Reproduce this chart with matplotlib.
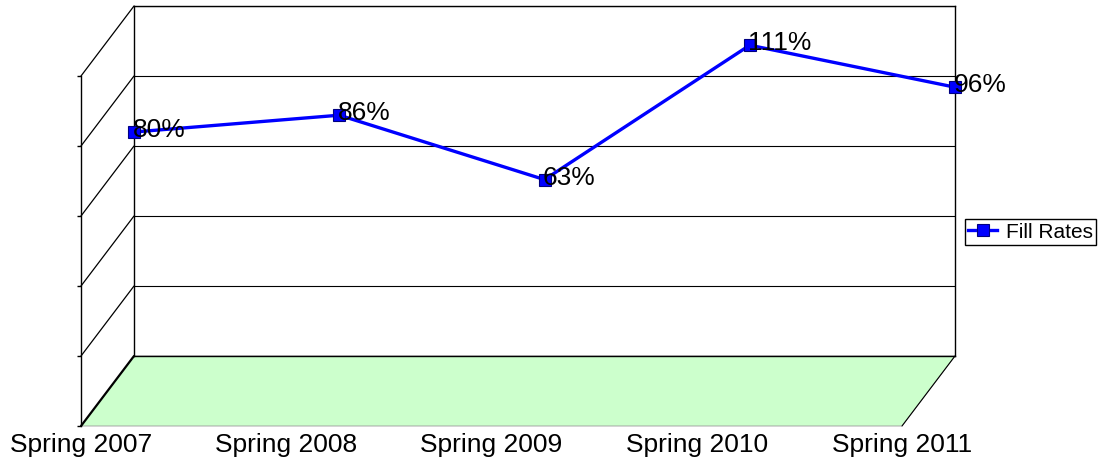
import matplotlib
matplotlib.use("Agg")
import matplotlib.pyplot as plt
from matplotlib.patches import Polygon, ConnectionPatch

plt.rcParams['font.family'] = ['Liberation Sans', 'DejaVu Sans']

# data
seasons = ['Spring 2007', 'Spring 2008', 'Spring 2009', 'Spring 2010', 'Spring 2011']
fill_rates = [80, 86, 63, 111, 96]
y_ticks = [0, 25, 50, 75, 100, 125]

W, H = 1098, 464
fig = plt.figure(figsize=(W / 100, H / 100), dpi=100)

def box(x0, y0, x1, y1):
    # pixel box (top-left origin) -> figure fraction
    return [x0 / W, 1 - y1 / H, (x1 - x0) / W, (y1 - y0) / H]

# front axis (left value axis + category labels)
ax_front = fig.add_axes(box(81, 77, 902, 427))
ax_front.set_facecolor('none')
ax_front.set_xlim(0, len(seasons) - 1)
ax_front.set_ylim(0, 125)
for s in ['top', 'right', 'bottom']:
    ax_front.spines[s].set_visible(False)
ax_front.spines['left'].set_linewidth(1.0)
ax_front.set_yticks(y_ticks)
ax_front.tick_params(axis='y', length=3, width=1.0, labelleft=False)
ax_front.set_xticks(range(len(seasons)))
ax_front.set_xticklabels(seasons, fontsize=19)
ax_front.tick_params(axis='x', length=0, pad=4)
ax_front.set_zorder(0)

# back wall
ax = fig.add_axes(box(134, 7, 955, 357))
ax.set_facecolor('none')
ax.set_xlim(0, len(seasons) - 1)
ax.set_ylim(0, 125)
for s in ax.spines.values():
    s.set_linewidth(1.0)
ax.set_yticks(y_ticks)
ax.set_xticks([])
ax.tick_params(axis='y', length=0, labelleft=False)
ax.grid(axis='y', color='black', linewidth=0.8)
ax.set_zorder(1)

# floor
fig.canvas.draw()
n = len(seasons) - 1
pts = [ax.transData.transform((0, 0)), ax.transData.transform((n, 0)),
       ax_front.transData.transform((n, 0)), ax_front.transData.transform((0, 0))]
pts = fig.transFigure.inverted().transform(pts)
floor = Polygon(pts, closed=True, facecolor='#CCFFCC', edgecolor='#999999',
                linewidth=0.6, transform=fig.transFigure, zorder=-1)
fig.add_artist(floor)

# side wall diagonals
for v in y_ticks:
    lw = 1.6 if v == 0 else 0.9
    con = ConnectionPatch(xyA=(0, v), coordsA=ax.transData,
                          xyB=(0, v), coordsB=ax_front.transData,
                          color='black', linewidth=lw)
    fig.add_artist(con)
con = ConnectionPatch(xyA=(n, 0), coordsA=ax.transData,
                      xyB=(n, 0), coordsB=ax_front.transData,
                      color='black', linewidth=0.8)
fig.add_artist(con)

# series
x = list(range(len(seasons)))
line, = ax.plot(x, fill_rates, color='#0000FF', linewidth=2.4, marker='s',
                markersize=9, markerfacecolor='#0000FF', markeredgecolor='#000080',
                markeredgewidth=0.8, clip_on=False, label='Fill Rates', zorder=5)
for xi, v in zip(x, fill_rates):
    ax.annotate(f'{v}%', (xi, v), xytext=(-1, 2), textcoords='offset points',
                ha='left', va='center', fontsize=19, color='black', zorder=6,
                annotation_clip=False)

fig.legend(handles=[line], labels=['Fill Rates'], loc='center left',
           bbox_to_anchor=(965 / W, 1 - 233 / H), fontsize=15, frameon=True,
           fancybox=False, edgecolor='black', framealpha=1,
           borderpad=0.15, handlelength=1.4, handletextpad=0.4, borderaxespad=0)

fig.savefig('out.png', dpi=100)
